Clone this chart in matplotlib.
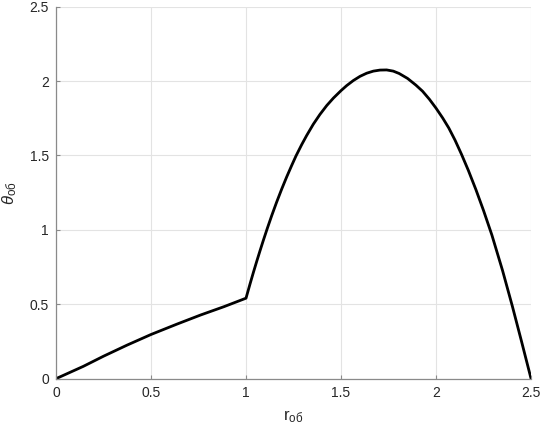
import numpy as np
import matplotlib
matplotlib.use("Agg")
import matplotlib.pyplot as plt

plt.rcParams['font.family'] = ['Liberation Sans', 'DejaVu Sans']
plt.rcParams['mathtext.fontset'] = 'custom'
plt.rcParams['mathtext.rm'] = 'Liberation Sans'
plt.rcParams['mathtext.it'] = 'Liberation Sans:italic'

# values
r_ob = [0.0, 0.144, 0.25, 0.373, 0.5, 0.637, 0.761, 0.884, 1.0,
        1.021, 1.039, 1.056, 1.074, 1.091, 1.112, 1.135, 1.161, 1.188,
        1.214, 1.240, 1.263, 1.293, 1.319, 1.354, 1.389, 1.425, 1.46,
        1.5, 1.530, 1.565, 1.6, 1.635, 1.670, 1.705, 1.740, 1.775,
        1.806, 1.85, 1.894, 1.929, 1.965, 2.0, 2.035, 2.067, 2.1, 2.134,
        2.17, 2.21, 2.25, 2.294, 2.35, 2.401, 2.45, 2.5]
theta_ob = [0.0, 0.083, 0.151, 0.225, 0.297, 0.367, 0.428, 0.484, 0.541,
            0.636, 0.715, 0.787, 0.861, 0.929, 1.01, 1.095, 1.186, 1.275,
            1.356, 1.432, 1.497, 1.573, 1.634, 1.71, 1.776, 1.836, 1.886,
            1.936, 1.97, 2.004, 2.032, 2.053, 2.067, 2.074, 2.075, 2.067,
            2.051, 2.018, 1.973, 1.932, 1.878, 1.818, 1.752, 1.685, 1.603,
            1.508, 1.4, 1.27, 1.13, 0.965, 0.727, 0.49, 0.25, 0.0]
ticks = [0, 0.5, 1, 1.5, 2, 2.5]
tick_labels = ['0', '0.5', '1', '1.5', '2', '2.5']

fig = plt.figure(figsize=(5.43, 4.32), dpi=100)
ax = fig.add_axes([0.1031, 0.1234, 0.8749, 0.8611])

ax.plot(r_ob, theta_ob, color='black', linewidth=2.0,
        solid_joinstyle='round', solid_capstyle='round')

ax.set_xlim(0, 2.5)
ax.set_ylim(0, 2.5)
ax.set_xticks(ticks)
ax.set_yticks(ticks)
ax.set_xticklabels(tick_labels)
ax.set_yticklabels(tick_labels)
ax.grid(True, color='#e3e3e3', linewidth=0.8)
ax.set_axisbelow(True)

for side in ['top', 'right']:
    ax.spines[side].set_visible(False)
for side in ['left', 'bottom']:
    ax.spines[side].set_color('#8a8a8a')
    ax.spines[side].set_linewidth(0.9)

ax.tick_params(direction='in', length=3, width=0.8, color='#8a8a8a',
               labelsize=10, labelcolor='#262626', pad=5)

ax.set_xlabel(r'$\mathrm{r}_{\mathrm{об}}$', fontsize=12, color='#262626', labelpad=6)
ax.set_ylabel(r'$\theta_{\mathrm{об}}$', fontsize=12, color='#262626', labelpad=8)

fig.savefig('out.png', dpi=100)
